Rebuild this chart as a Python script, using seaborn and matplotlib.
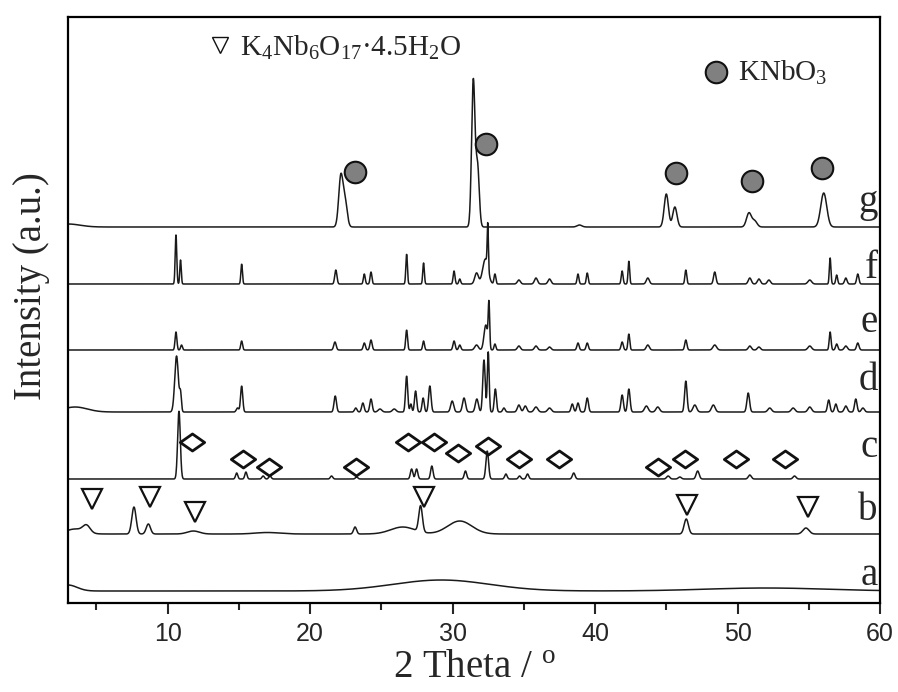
import numpy as np
import pandas as pd
import matplotlib
matplotlib.use("Agg")
import matplotlib.pyplot as plt
from matplotlib.path import Path
from matplotlib.ticker import MultipleLocator
import seaborn as sns

# ---------------- data ----------------
two_theta_range = [3.0, 60.0]
trace_names = ["a", "b", "c", "d", "e", "f", "g"]
trace_offsets = [12, 69, 124, 191, 253, 319, 376]

# peak positions (deg), heights (a.u.), FWHM (deg) for every pattern
pos_a = [3.0, 29.2, 52.0]
h_a = [6, 11, 3]
w_a = [1.5, 8.0, 10.0]

pos_b = [3.5, 4.3, 7.63, 8.64, 11.8, 17.0, 23.15, 26.5, 27.75, 30.5, 46.4, 54.8]
h_b = [5, 7, 27, 10, 3, 1.5, 7, 7, 26, 13, 15, 6]
w_b = [1.5, 0.6, 0.35, 0.35, 1.0, 2.0, 0.25, 2.0, 0.3, 2.0, 0.35, 0.5]

pos_c = [10.79, 14.84, 15.49, 16.7, 17.18, 21.5, 23.26, 27.12, 27.47, 28.54,
         30.9, 32.43, 33.74, 34.7, 35.26, 38.5, 45.13, 45.95, 47.2, 50.86, 54.0]
h_c = [68, 6, 7, 3, 3, 3, 2, 10, 10, 13, 8, 28, 5, 3, 5, 6, 3, 2, 8, 4, 3]
w_c = [0.22, 0.18, 0.18, 0.2, 0.2, 0.2, 0.2, 0.2, 0.2, 0.2, 0.2, 0.22, 0.2,
       0.2, 0.2, 0.22, 0.25, 0.25, 0.25, 0.25, 0.25]

pos_d = [3.5, 10.62, 10.9, 14.9, 15.19, 21.76, 23.2, 23.7, 24.27, 24.9, 25.9,
         26.77, 27.07, 27.4, 27.93, 28.4, 29.97, 30.8, 31.7, 32.2, 32.5, 33.0,
         33.6, 34.65, 35.1, 35.85, 36.8, 38.4, 38.8, 39.45, 41.9, 42.37, 43.6,
         44.4, 46.37, 47.0, 48.3, 50.75, 52.26, 53.9, 55.07, 56.4, 56.9, 57.6,
         58.3, 58.8]
h_d = [5, 56, 17, 4, 26, 16, 4, 9, 13, 3, 3, 36, 8, 21, 14, 26, 11, 14, 13,
       52, 60, 23, 4, 7, 6, 5, 4, 8, 9, 14, 17, 23, 6, 5, 31, 7, 7, 19, 4, 4,
       5, 12, 8, 6, 13, 4]
w_d = [2.0, 0.3, 0.15, 0.2, 0.18, 0.2, 0.2, 0.2, 0.2, 0.3, 0.3, 0.18, 0.15,
       0.18, 0.18, 0.2, 0.25, 0.25, 0.25, 0.2, 0.15, 0.18, 0.2, 0.25, 0.25,
       0.3, 0.3, 0.2, 0.2, 0.2, 0.2, 0.2, 0.3, 0.3, 0.2, 0.3, 0.3, 0.22, 0.3,
       0.3, 0.3, 0.2, 0.2, 0.25, 0.2, 0.25]

pos_e = [10.58, 10.97, 15.19, 21.74, 23.8, 24.27, 26.77, 27.96, 30.1, 30.5,
         31.68, 32.33, 32.55, 32.97, 34.65, 35.85, 36.8, 38.8, 39.45, 41.9,
         42.37, 43.7, 46.37, 48.4, 50.86, 51.5, 55.07, 56.5, 56.96, 57.6, 58.44]
h_e = [18, 5, 9, 8, 7, 10, 20, 9, 9, 5, 5, 25, 44, 6, 4, 4, 3, 7, 7, 8, 16, 5,
       10, 5, 4, 3, 4, 18, 6, 4, 7]
w_e = [0.15, 0.15, 0.15, 0.2, 0.18, 0.18, 0.15, 0.15, 0.18, 0.18, 0.3, 0.3,
       0.12, 0.15, 0.25, 0.25, 0.25, 0.18, 0.18, 0.18, 0.15, 0.25, 0.18, 0.3,
       0.25, 0.25, 0.3, 0.15, 0.18, 0.25, 0.2]

pos_f = [10.58, 10.9, 15.19, 21.8, 23.8, 24.27, 26.77, 27.96, 30.1, 30.5, 31.68,
         32.3, 32.47, 32.97, 34.65, 35.85, 36.8, 38.8, 39.45, 41.9, 42.37, 43.7,
         46.37, 48.4, 50.86, 51.5, 52.2, 55.07, 56.5, 56.96, 57.6, 58.44]
h_f = [49, 24, 20, 14, 10, 12, 30, 21, 13, 5, 11, 25, 45, 10, 4, 6, 5, 10, 11,
       13, 23, 6, 14, 12, 6, 5, 4, 4, 26, 9, 6, 10]
w_f = [0.13, 0.12, 0.13, 0.18, 0.15, 0.15, 0.13, 0.13, 0.15, 0.15, 0.3, 0.45,
       0.1, 0.15, 0.25, 0.25, 0.25, 0.15, 0.15, 0.15, 0.13, 0.25, 0.15, 0.2,
       0.25, 0.25, 0.25, 0.3, 0.13, 0.15, 0.2, 0.18]

pos_g = [3.0, 22.15, 22.45, 31.45, 31.75, 38.9, 45.0, 45.6, 50.8, 51.2, 56.05]
h_g = [3, 50, 25, 146, 60, 2, 33, 20, 14, 6, 34]
w_g = [2.0, 0.35, 0.35, 0.28, 0.28, 0.4, 0.35, 0.35, 0.4, 0.4, 0.5]

# phase markers
tri_x = [4.66, 8.75, 11.91, 27.98, 46.42, 54.95]          # K4Nb6O17·4.5H2O
tri_y = [104, 106, 91, 106, 98, 96]
dia_x = [11.68, 15.26, 17.13, 23.25, 26.88, 28.66, 30.40, 32.51, 34.63, 37.46,
         44.43, 46.30, 49.88, 53.32]
dia_y = [161, 144, 136, 136, 161, 161, 150, 157, 144, 144, 136, 144, 144, 144]
circ_x = [23.14, 32.33, 45.67, 51.0, 55.96]               # KNbO3
circ_y = [431, 459, 430, 422, 435]

legend_labels = [r"K$_4$Nb$_6$O$_{17}$·4.5H$_2$O", r"KNbO$_3$"]
x_ticks = [10, 20, 30, 40, 50, 60]

peaks = {"a": (pos_a, h_a, w_a), "b": (pos_b, h_b, w_b), "c": (pos_c, h_c, w_c),
         "d": (pos_d, h_d, w_d), "e": (pos_e, h_e, w_e), "f": (pos_f, h_f, w_f),
         "g": (pos_g, h_g, w_g)}

# ---------------- build the profiles ----------------
x = np.linspace(two_theta_range[0], two_theta_range[1], 2851)
frames = []
for name, off in zip(trace_names, trace_offsets):
    p, h, w = (np.asarray(v, float) for v in peaks[name])
    y = np.full_like(x, off, dtype=float)
    for pi, hi, wi in zip(p, h, w):
        y += hi * np.exp(-4 * np.log(2) * (x - pi) ** 2 / wi ** 2)
    frames.append(pd.DataFrame({"two_theta": x, "intensity": y, "sample": name}))
df = pd.concat(frames, ignore_index=True)

# ---------------- style ----------------
sns.set_style("ticks")
plt.rcParams["font.family"] = ["Liberation Serif", "DejaVu Serif"]
plt.rcParams["mathtext.fontset"] = "custom"
plt.rcParams["mathtext.rm"] = "Liberation Serif"
plt.rcParams["mathtext.it"] = "Liberation Serif:italic"
plt.rcParams["mathtext.bf"] = "Liberation Serif:bold"

fig = plt.figure(figsize=(8.98, 6.92), dpi=100)
ax = fig.add_axes([68 / 898, 1 - 603 / 692, (880 - 68) / 898, (603 - 17) / 692])

sns.lineplot(data=df, x="two_theta", y="intensity", hue="sample",
             palette=["#1a1a1a"] * len(trace_names), estimator=None,
             linewidth=1.1, legend=False, ax=ax, sort=False)

# markers
ax.plot(tri_x, tri_y, linestyle="none", marker="v", markersize=14.5,
        markerfacecolor="white", markeredgecolor="#111111", markeredgewidth=1.6,
        zorder=5)
diamond = Path([(-1, 0), (0, 0.7), (1, 0), (0, -0.7), (-1, 0)],
               [Path.MOVETO, Path.LINETO, Path.LINETO, Path.LINETO, Path.CLOSEPOLY])
ax.plot(dia_x, dia_y, linestyle="none", marker=diamond, markersize=17.5,
        markerfacecolor="none", markeredgecolor="#111111", markeredgewidth=2.0,
        zorder=5)
ax.plot(circ_x, circ_y, linestyle="none", marker="o", markersize=15.5,
        markerfacecolor="#808080", markeredgecolor="#111111", markeredgewidth=1.5,
        zorder=5)

# in-plot legend
ax.plot([13.67], [558], linestyle="none", marker="v", markersize=12,
        markerfacecolor="white", markeredgecolor="#111111", markeredgewidth=1.0)
ax.text(15.05, 547, legend_labels[0], fontsize=21, va="baseline", ha="left")
ax.plot([48.47], [531], linestyle="none", marker="o", markersize=15.5,
        markerfacecolor="#808080", markeredgecolor="#111111", markeredgewidth=1.5)
ax.text(50.0, 522, legend_labels[1], fontsize=21, va="baseline", ha="left")

# trace labels
label_baselines = [18, 83, 146, 213, 271, 325, 391]
for name, yb in zip(trace_names, label_baselines):
    ax.text(59.85, yb, name, fontsize=28, ha="right", va="baseline")

# axes
ax.set_xlim(*two_theta_range)
ax.set_ylim(0, 586)
ax.set_xticks(x_ticks)
ax.xaxis.set_minor_locator(MultipleLocator(5))
ax.set_yticks([])
ax.tick_params(axis="x", which="major", direction="out", length=8, width=1.5, pad=6)
ax.tick_params(axis="x", which="minor", direction="out", length=5, width=1.5)
for lab in ax.get_xticklabels():
    lab.set_fontfamily(["Liberation Sans", "DejaVu Sans"])
    lab.set_fontsize(18)
for sp in ax.spines.values():
    sp.set_visible(True)
    sp.set_linewidth(1.6)
    sp.set_color("black")

ax.set_xlabel(r"2 Theta / $^{\rm o}$", fontsize=28, labelpad=2)
ax.set_ylabel("Intensity (a.u.)", fontsize=28)
ax.yaxis.set_label_coords(-0.022, 0.54)

fig.savefig("out.png", dpi=100, facecolor="white")
